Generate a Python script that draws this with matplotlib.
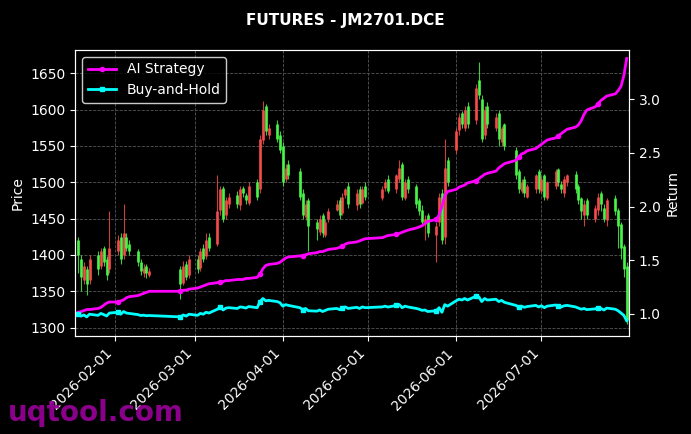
import matplotlib
matplotlib.use("Agg")
import matplotlib.pyplot as plt
import matplotlib.dates as mdates
import numpy as np
import pandas as pd

weeks = ["2026-01-19","2026-01-26","2026-02-02","2026-02-09","2026-02-24","2026-03-02","2026-03-09",
         "2026-03-16","2026-03-23","2026-03-30","2026-04-07","2026-04-13","2026-04-20","2026-04-27",
         "2026-05-06","2026-05-11","2026-05-18","2026-05-25","2026-06-01","2026-06-08","2026-06-15",
         "2026-06-22","2026-06-29","2026-07-06","2026-07-13","2026-07-20","2026-07-27"]
week_days = [5,5,5,5,4,5,5,5,5,5,4,5,5,4,3,5,5,5,5,5,4,5,5,5,5,5,5]

closes = [1400,1370,1385,1360,1395, 1380,1405,1390,1372,1410, 1420,1395,1430,1410,1405,
          1390,1378,1382,1375,1378, 1360,1385,1370,1395, 1380,1405,1395,1420,1410,
          1460,1490,1450,1475,1480, 1470,1490,1485,1475,1495, 1480,1560,1600,1570,1575,
          1560,1545,1500,1520,1510, 1480,1455,1470,1440, 1435,1450,1430,1445,1460,
          1470,1455,1480,1490,1470, 1485,1470,1490,1480, 1490,1500,1488,
          1510,1520,1480,1500,1490, 1470,1460,1445,1450,1430, 1440,1480,1420,1520,1500,
          1570,1590,1580,1600,1580, 1630,1620,1560,1600,1580, 1590,1560,1575,1550,
          1510,1490,1500,1485,1495, 1510,1490,1505,1480,1500, 1515,1500,1490,1505,1510,
          1490,1475,1460,1470,1455, 1465,1480,1470,1450,1475, 1460,1440,1410,1380,1310]
opens = [1420,1395,1365,1380,1365, 1400,1385,1410,1395,1380, 1405,1425,1400,1425,1415,
         1405,1390,1375,1385,1372, 1380,1362,1388,1372, 1395,1382,1410,1398,1425,
         1415,1462,1492,1455,1470, 1482,1468,1492,1482,1472, 1500,1490,1558,1605,1565,
         1580,1565,1550,1505,1525, 1515,1485,1452,1475, 1445,1432,1455,1428,1450,
         1462,1475,1458,1482,1495, 1468,1490,1472,1495, 1478,1492,1505,
         1490,1505,1525,1478,1505, 1495,1475,1462,1442,1455, 1428,1445,1485,1425,1530,
         1545,1572,1595,1575,1605, 1585,1640,1615,1565,1605, 1575,1595,1555,1580,
         1545,1515,1488,1505,1480, 1490,1515,1488,1510,1478, 1495,1518,1498,1485,1500,
         1512,1495,1478,1455,1475, 1450,1462,1485,1465,1448, 1478,1462,1442,1412,1385]
highs = [1425,1400,1390,1385,1400, 1405,1410,1412,1398,1460, 1428,1430,1470,1430,1420,
         1408,1395,1388,1388,1382, 1385,1392,1392,1400, 1400,1410,1415,1430,1430,
         1510,1495,1495,1480,1485, 1488,1495,1495,1485,1500, 1505,1565,1612,1608,1580,
         1585,1570,1555,1525,1530, 1520,1490,1475,1478, 1450,1455,1458,1450,1465,
         1475,1480,1485,1492,1500, 1490,1495,1495,1500, 1495,1505,1510,
         1512,1530,1528,1505,1508, 1498,1478,1468,1455,1458, 1445,1485,1490,1560,1535,
         1575,1595,1598,1605,1610, 1635,1665,1620,1605,1610, 1595,1600,1578,1582,
         1548,1518,1505,1508,1498, 1512,1518,1508,1512,1502, 1518,1520,1502,1508,1512,
         1515,1498,1480,1475,1478, 1468,1485,1488,1470,1478, 1482,1465,1445,1415,1390]
lows = [1375,1350,1360,1345,1360, 1372,1380,1385,1365,1375, 1400,1388,1395,1405,1400,
        1385,1372,1370,1368,1370, 1340,1358,1365,1368, 1375,1378,1390,1395,1405,
        1412,1455,1445,1450,1465, 1465,1462,1480,1470,1468, 1475,1485,1552,1565,1560,
        1555,1540,1495,1500,1505, 1475,1450,1448,1405, 1420,1428,1425,1425,1445,
        1460,1450,1455,1478,1465, 1462,1465,1470,1475, 1475,1488,1485,
        1485,1500,1475,1475,1485, 1465,1455,1440,1420,1425, 1390,1440,1415,1415,1495,
        1540,1565,1575,1570,1575, 1580,1615,1555,1560,1575, 1570,1550,1550,1545,
        1505,1485,1485,1480,1478, 1485,1485,1485,1475,1475, 1490,1495,1485,1480,1495,
        1485,1470,1450,1440,1450, 1445,1455,1460,1445,1440, 1455,1410,1395,1370,1305]

ai_return = [1.01,1.02,1.03,1.04,1.04, 1.05,1.06,1.08,1.10,1.11, 1.11,1.12,1.13,1.15,1.16,
             1.17,1.18,1.19,1.20,1.21, 1.21,1.22,1.22,1.23, 1.24,1.25,1.26,1.27,1.28,
             1.29,1.30,1.30,1.31,1.31, 1.32,1.32,1.32,1.33,1.33, 1.34,1.37,1.42,1.45,1.46,
             1.47,1.48,1.50,1.52,1.53, 1.54,1.54,1.55,1.56, 1.57,1.58,1.58,1.59,1.60,
             1.61,1.62,1.63,1.65,1.66, 1.67,1.68,1.69,1.70, 1.71,1.72,1.73,
             1.74,1.75,1.76,1.77,1.78, 1.80,1.81,1.82,1.84,1.86, 1.88,1.92,2.00,2.10,2.14,
             2.16,2.18,2.19,2.20,2.22, 2.24,2.26,2.28,2.30,2.31, 2.33,2.36,2.38,2.40,
             2.43,2.46,2.49,2.50,2.52, 2.54,2.56,2.58,2.60,2.62, 2.64,2.66,2.68,2.70,2.72,
             2.74,2.76,2.80,2.86,2.90, 2.93,2.96,2.99,3.01,3.03, 3.05,3.08,3.12,3.22,3.38]

dates = []
for w, n in zip(weeks, week_days):
    d0 = pd.Timestamp(w)
    dates += [d0 + pd.Timedelta(days=i) for i in range(n)]
dates = pd.to_datetime(dates)
closes = np.array(closes, float); opens = np.array(opens, float)
bh_return = closes / closes[0]

bg = "black"
fig, ax = plt.subplots(figsize=(6.91, 4.34), dpi=100)
fig.patch.set_facecolor(bg); ax.set_facecolor(bg)
fig.subplots_adjust(left=0.109, right=0.910, top=0.885, bottom=0.225)

x = mdates.date2num(dates)
up_c, dn_c = "#ff4f4f", "#4dff4d"
for xi, o, h, l, c in zip(x, opens, highs, lows, closes):
    col = up_c if c >= o else dn_c
    ax.vlines(xi, l, h, color=col, lw=0.8, alpha=0.8)
    ax.vlines(xi, min(o, c), max(o, c), color=col, lw=2.2, alpha=0.8)

ax.set_xlim(mdates.date2num(pd.Timestamp("2026-01-18")), mdates.date2num(pd.Timestamp("2026-07-31 18:00")))
ax.set_ylim(1288, 1682)
ax.set_yticks([1300,1350,1400,1450,1500,1550,1600,1650])
ax.xaxis.set_major_locator(mdates.MonthLocator())
ax.xaxis.set_major_formatter(mdates.DateFormatter("%Y-%m-%d"))
plt.setp(ax.get_xticklabels(), rotation=45, ha="right")
ax.grid(True, color="#555555", linestyle="--", lw=0.6)
ax.set_ylabel("Price", color="white")
for s in ax.spines.values(): s.set_color("white")
ax.tick_params(colors="white")

ax2 = ax.twinx()
ax2.plot(x, ai_return, color="#ff00ff", lw=2, marker="o", ms=3, markevery=10, label="AI Strategy")
ax2.plot(x, bh_return, color="#00ffff", lw=2, marker="s", ms=3, markevery=10, label="Buy-and-Hold")
ax2.set_ylim(0.79, 3.46)
ax2.set_yticks([1.0,1.5,2.0,2.5,3.0])
ax2.set_ylabel("Return", color="white")
ax2.tick_params(colors="white")
for s in ax2.spines.values(): s.set_color("white")
leg = ax2.legend(loc="upper left", facecolor="black", edgecolor="white", labelcolor="white")

fig.suptitle("FUTURES - JM2701.DCE", color="white", fontweight="bold", fontsize=11, y=0.97)
fig.text(0.012, 0.03, "uqtool.com", color="#9b009b", fontsize=20, fontweight="bold", alpha=0.9)
fig.savefig("out.png", dpi=100, facecolor=bg)
